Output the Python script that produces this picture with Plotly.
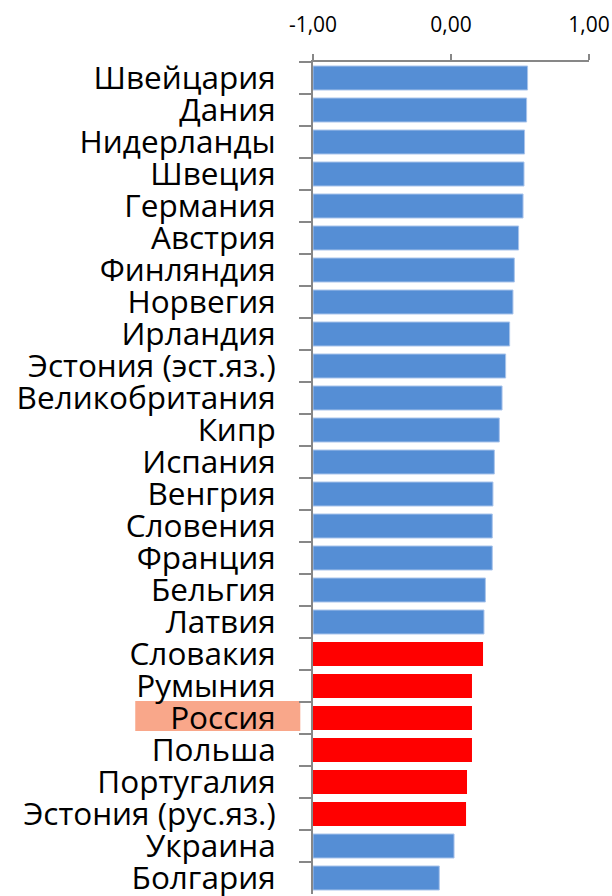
import plotly.graph_objects as go

countries = [
    "Швейцария", "Дания", "Нидерланды", "Швеция", "Германия", "Австрия",
    "Финляндия", "Норвегия", "Ирландия", "Эстония (эст.яз.)", "Великобритания",
    "Кипр", "Испания", "Венгрия", "Словения", "Франция", "Бельгия", "Латвия",
    "Словакия", "Румыния", "Россия", "Польша", "Португалия",
    "Эстония (рус.яз.)", "Украина", "Болгария",
]
values = [
    0.555, 0.548, 0.533, 0.529, 0.522, 0.490, 0.459, 0.449, 0.425, 0.396,
    0.370, 0.350, 0.314, 0.304, 0.299, 0.299, 0.249, 0.239, 0.232, 0.152,
    0.152, 0.152, 0.116, 0.109, 0.022, -0.085,
]
highlight_red = {"Словакия", "Румыния", "Россия", "Польша", "Португалия", "Эстония (рус.яз.)"}
marked = "Россия"
axis_min = -1.0
x_ticks = [-1.0, 0.0, 1.0]
x_tick_labels = ["-1,00", "0,00", "1,00"]

BLUE = "#558ED5"
RED = "#FF0000"

colors = [RED if c in highlight_red else BLUE for c in countries]
line_colors = ["rgba(0,0,0,0)" if c in highlight_red else "#A9C4EB" for c in countries]

fig = go.Figure(
    go.Bar(
        y=countries,
        x=[v - axis_min for v in values],
        base=axis_min,
        orientation="h",
        marker=dict(color=colors, line=dict(color=line_colors, width=1)),
        hoverinfo="skip",
    )
)

idx = countries.index(marked)
fig.add_shape(
    type="rect", xref="paper", yref="y",
    x0=-0.644, x1=-0.046, y0=idx - 0.53, y1=idx + 0.41,
    fillcolor="#F9A78A", line=dict(width=0), layer="below",
)

fig.update_layout(
    width=612, height=896,
    margin=dict(l=313, r=23, t=62, b=2),
    paper_bgcolor="white", plot_bgcolor="white",
    bargap=0.25,
    showlegend=False,
    font=dict(family="Open Sans", color="black"),
)
fig.update_xaxes(
    side="top", range=[-1, 1], tickvals=x_ticks, ticktext=x_tick_labels,
    showgrid=False, zeroline=False, showline=True, linecolor="#878787", linewidth=2,
    ticks="outside", ticklen=6, tickwidth=2, tickcolor="#878787",
    tickfont=dict(size=21, family="Open Sans", color="black"), ticklabelstandoff=14,
    automargin=False,
)
fig.update_yaxes(
    autorange="reversed", type="category", tickmode="linear", dtick=1,
    showgrid=False, zeroline=False, showline=True, linecolor="#878787", linewidth=2,
    ticks="outside", ticklen=12, tickwidth=2, tickcolor="#878787", tickson="boundaries",
    tickfont=dict(size=31.5, family="Open Sans", color="black"), ticklabelstandoff=29,
    automargin=False,
)

fig.write_html(
    "out.html",
    config={"displayModeBar": False},
    post_script="document.body.style.margin='0';document.body.style.overflow='hidden';",
)
